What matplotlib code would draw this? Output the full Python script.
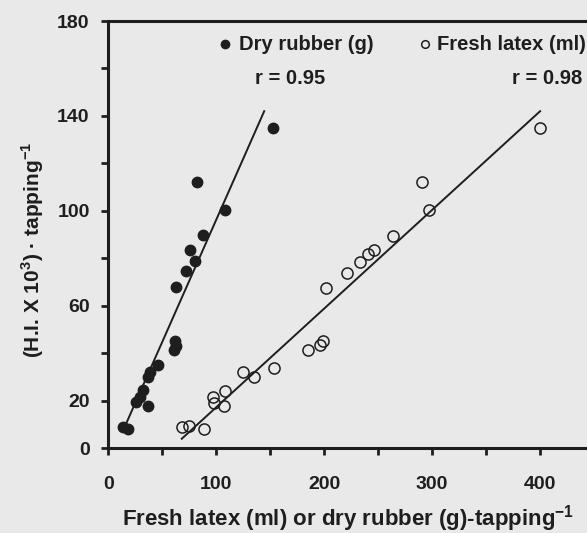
import numpy as np
import matplotlib
matplotlib.use('Agg')
import matplotlib.pyplot as plt
import matplotlib.ticker as mticker

# dry rubber (g) per tapping vs harvest index
dry_x = [13.5, 18.5, 26, 29, 32, 36.5, 37, 38.5, 46, 61, 62, 62.5, 63, 72, 76, 80, 82, 87.5, 108, 153]
dry_y = [9, 8, 19.5, 21.5, 24.5, 18, 30, 32, 35, 41.5, 45, 43, 68, 74.5, 83.5, 79, 112, 90, 100.5, 135]

# fresh latex (ml) per tapping vs harvest index
latex_x = [68, 75, 89, 97, 98, 108, 107, 125, 135, 154, 185.5, 196, 199, 202,
           221, 233.5, 241, 246, 264, 291, 297.5, 400.5]
latex_y = [9, 9.5, 8, 21.5, 19, 24, 18, 32, 30, 34, 41.5, 43.5, 45, 67.5,
           74, 78.5, 82, 83.5, 89.5, 112, 100.5, 135]

# regression lines as drawn
fit_dry_x = [17, 144.5]
fit_dry_y = [11, 142]
fit_latex_x = [68, 400.5]
fit_latex_y = [4, 142]

y_ticks = [0, 20, 40, 60, 80, 100, 120, 140, 160, 180]
y_labels = ['0', '20', '', '60', '', '100', '', '140', '', '180']
x_ticks = [0, 50, 100, 150, 200, 250, 300, 350, 400]
x_labels = ['0', '', '100', '', '200', '', '300', '', '400']

bg = '#e9e9e9'
ink = '#1e1e1e'
plt.rcParams['font.family'] = ['Liberation Sans', 'DejaVu Sans']
plt.rcParams['font.weight'] = 'bold'
plt.rcParams['mathtext.fontset'] = 'custom'
plt.rcParams['mathtext.rm'] = 'Liberation Sans:bold'
plt.rcParams['mathtext.bf'] = 'Liberation Sans:bold'

fig = plt.figure(figsize=(5.87, 5.33), dpi=100, facecolor=bg)
ax = fig.add_axes([0.1848, 0.159, 0.8152, 0.8016], facecolor=bg)

ax.plot(fit_dry_x, fit_dry_y, color=ink, lw=1.4)
ax.plot(fit_latex_x, fit_latex_y, color=ink, lw=1.4)
ax.plot(dry_x, dry_y, 'o', color=ink, ms=7.5, mec=ink)
ax.plot(latex_x, latex_y, 'o', mfc='none', mec=ink, ms=8, mew=1.1)

ax.set_xlim(0, 444)
ax.set_ylim(0, 180)
ax.xaxis.set_major_locator(mticker.FixedLocator(x_ticks))
ax.yaxis.set_major_locator(mticker.FixedLocator(y_ticks))
ax.set_xticklabels(x_labels)
ax.set_yticklabels(y_labels)
ax.tick_params(direction='out', length=5, width=2, color=ink, labelcolor=ink,
               labelsize=14)
ax.tick_params(axis='y', pad=8.5)
ax.tick_params(axis='x', pad=15)

for side in ['left', 'bottom', 'top']:
    ax.spines[side].set_linewidth(2.2)
    ax.spines[side].set_color(ink)
ax.spines['right'].set_visible(False)

ax.set_xlabel('Fresh latex (ml) or dry rubber (g)-tapping$^{-1}$',
              fontsize=16, fontweight='bold', color=ink, labelpad=7)
ax.set_ylabel('(H.I. X 10$^{3}$) \u00b7 tapping$^{-1}$',
              fontsize=15, fontweight='bold', color=ink, labelpad=8)
ax.yaxis.label.set_y(0.464)

ax.plot([0.243], [0.946], 'o', transform=ax.transAxes, color=ink, ms=6, clip_on=False)
ax.text(0.273, 0.946, 'Dry rubber (g)', transform=ax.transAxes, fontsize=14.5,
        color=ink, va='center', ha='left')
ax.text(0.379, 0.866, 'r = 0.95', transform=ax.transAxes, fontsize=14.5,
        color=ink, va='center', ha='center')
ax.plot([0.661], [0.946], 'o', transform=ax.transAxes, mfc='none', mec=ink, ms=5.5,
        mew=1.1, clip_on=False)
ax.text(0.687, 0.946, 'Fresh latex (ml)', transform=ax.transAxes, fontsize=14.5,
        color=ink, va='center', ha='left')
ax.text(0.99, 0.866, 'r = 0.98', transform=ax.transAxes, fontsize=14.5,
        color=ink, va='center', ha='right')

fig.savefig('out.png', dpi=100, facecolor=bg)
